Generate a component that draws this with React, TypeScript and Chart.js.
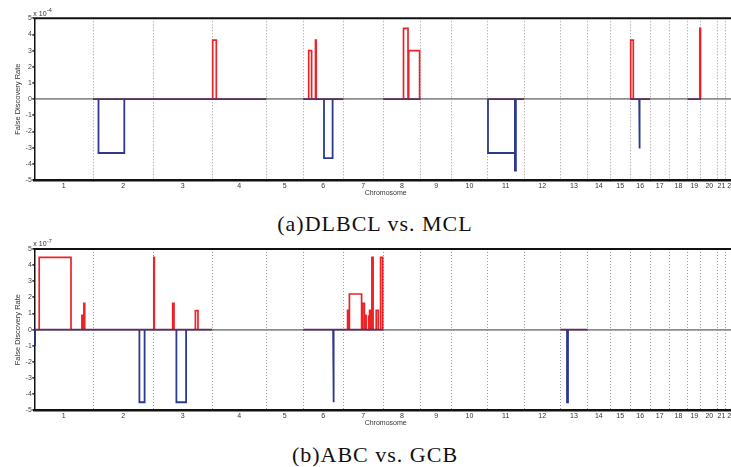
import React, { useEffect, useRef } from "react";
import { Chart, registerables } from "chart.js";

Chart.register(...registerables);

// ---------- data ----------
const CHROMOSOMES = ["1", "2", "3", "4", "5", "6", "7", "8", "9", "10", "11", "12", "13", "14", "15", "16", "17", "18", "19", "20", "21", "22"];
// relative width of each chromosome on the genome axis (position units)
const CHROM_SIZES = [58.7, 60.3, 58.7, 54.3, 37, 40, 40, 37.4, 31, 35.6, 36.7, 36.3, 27.4, 22.3, 20.3, 19.8, 19.2, 18.4, 13.3, 16.7, 7.6, 11.7];
const Y_TICKS = [-5, -4, -3, -2, -1, 0, 1, 2, 3, 4, 5];

// (a) DLBCL vs. MCL : [start, end, FDR (x10^-4)]
const A_RED: number[][] = [
  [178.4, 182.0, 3.65],
  [274.4, 277.3, 3.0],
  [281.2, 281.9, 3.65],
  [369.2, 373.7, 4.38],
  [374.4, 385.3, 3.0],
  [596.4, 599.0, 3.65],
  [665.5, 666.2, 4.38],
];
const A_BLUE: number[][] = [
  [64.2, 90.0, -3.33],
  [289.7, 298.3, -3.65],
  [453.7, 480.6, -3.33],
  [480.6, 481.6, -4.42],
  [604.9, 605.5, -3.05],
];
const A_BASE: number[][] = [
  [58.7, 232.0],
  [269.0, 309.0],
  [349.0, 386.4],
  [453.0, 489.7],
  [596.0, 615.8],
  [653.4, 666.7],
];

// (b) ABC vs. GCB : [start, end, FDR (x10^-7)]
const B_RED: number[][] = [
  [4.9, 36.7, 4.48],
  [47.6, 48.1, 0.89],
  [49.6, 50.4, 1.63],
  [119.5, 120.0, 4.48],
  [138.4, 139.7, 1.63],
  [161.1, 163.7, 1.18],
  [313.3, 314.1, 1.2],
  [315.1, 327.3, 2.21],
  [328.3, 330.1, 1.63],
  [330.6, 331.8, 0.89],
  [334.0, 334.5, 0.89],
  [335.3, 336.4, 1.2],
  [337.6, 338.8, 4.48],
  [341.9, 343.9, 1.2],
  [346.3, 348.4, 4.48],
];
const B_BLUE: number[][] = [
  [0.0, 0.8, -0.95],
  [105.1, 110.3, -4.5],
  [142.1, 151.8, -4.5],
  [298.8, 299.6, -4.5],
  [532.7, 533.7, -4.5],
];
const B_BASE: number[][] = [
  [0.0, 177.7],
  [269.0, 349.0],
  [526.0, 553.4],
];

// ---------- derived ----------
const BOUNDS: number[] = [];
const CENTERS: number[] = [];
{
  let acc = 0;
  for (const s of CHROM_SIZES) {
    CENTERS.push(acc + s / 2);
    acc += s;
    BOUNDS.push(acc);
  }
}
const X_MAX = BOUNDS[BOUNDS.length - 1];
const INNER_BOUNDS = BOUNDS.slice(0, BOUNDS.length - 1);

const FONT = "'Liberation Sans Narrow', 'Liberation Sans', Arial, sans-serif";
const RED = "#ec2227";
const BLUE = "#2b3990";
const BASE = "#5e2d62";

function segPoints(segs: number[][]) {
  const pts: { x: number; y: number | null }[] = [];
  for (const [s, e, v] of segs) {
    pts.push({ x: s, y: 0 }, { x: s, y: v }, { x: e, y: v }, { x: e, y: 0 }, { x: e, y: null });
  }
  return pts;
}
function basePoints(segs: number[][]) {
  const pts: { x: number; y: number | null }[] = [];
  for (const [s, e] of segs) {
    pts.push({ x: s, y: 0 }, { x: e, y: 0 }, { x: e, y: null });
  }
  return pts;
}

const framePlugin = {
  id: "frame",
  afterDraw(chart: any, _args: any, opts: any) {
    const { ctx, chartArea } = chart;
    ctx.save();
    ctx.strokeStyle = "#111";
    ctx.lineWidth = 2;
    ctx.beginPath();
    ctx.moveTo(chartArea.left - 0.75, chartArea.top);
    ctx.lineTo(chartArea.right, chartArea.top);
    ctx.stroke();
    ctx.fillStyle = "#333";
    ctx.textBaseline = "alphabetic";
    ctx.textAlign = "left";
    ctx.font = `7px ${FONT}`;
    const x0 = chartArea.left - 1;
    ctx.fillText("x 10", x0, chartArea.top - 2.6);
    const w = ctx.measureText("x 10").width;
    ctx.font = `5.5px ${FONT}`;
    ctx.fillText(opts.exp, x0 + w + 0.4, chartArea.top - 6.3);
    ctx.restore();
  },
};

type PanelProps = {
  top: number;
  chartTop: number;
  chartBottom: number;
  red: number[][];
  blue: number[][];
  base: number[][];
  exp: string;
};

const CANVAS_W = 737;
const CANVAS_H = 200;

function FdrPanel(p: PanelProps) {
  const ref = useRef<HTMLCanvasElement | null>(null);
  useEffect(() => {
    if (!ref.current) return;
    const chart = new Chart(ref.current, {
      type: "line",
      data: {
        datasets: [
          {
            data: basePoints(p.base) as any,
            borderColor: BASE,
            borderWidth: 1.6,
            pointRadius: 0,
            fill: false,
            tension: 0,
            spanGaps: false,
          },
          {
            data: segPoints(p.blue) as any,
            borderColor: BLUE,
            borderWidth: 1.8,
            pointRadius: 0,
            fill: false,
            tension: 0,
            spanGaps: false,
            borderJoinStyle: "miter",
          },
          {
            data: segPoints(p.red) as any,
            borderColor: RED,
            borderWidth: 1.7,
            pointRadius: 0,
            fill: false,
            tension: 0,
            spanGaps: false,
            borderJoinStyle: "miter",
          },
        ],
      },
      options: {
        animation: false,
        responsive: false,
        devicePixelRatio: 1,
        events: [],
        layout: { padding: { top: p.chartTop, left: 0, right: 0, bottom: 0 }, autoPadding: false } as any,
        plugins: {
          legend: { display: false },
          tooltip: { enabled: false },
          frame: { exp: p.exp },
        } as any,
        scales: {
          x: {
            type: "linear",
            position: "bottom",
            min: 0,
            max: X_MAX,
            afterBuildTicks: (s: any) => {
              s.ticks = CENTERS.map((v) => ({ value: v }));
            },
            afterFit: (s: any) => {
              s.height = CANVAS_H - p.chartBottom;
            },
            ticks: {
              autoSkip: false,
              maxRotation: 0,
              padding: 1.5,
              color: "#333",
              font: { size: 7, family: FONT },
              callback: (_v: any, i: number) => CHROMOSOMES[i],
            },
            grid: { display: false, drawTicks: false },
            border: { display: true, color: "#111", width: 2.5 },
            title: {
              display: true,
              text: "Chromosome",
              color: "#333",
              font: { size: 7, family: FONT },
              padding: { top: 0, bottom: 2.3 },
            },
          },
          x2: {
            type: "linear",
            position: "bottom",
            min: 0,
            max: X_MAX,
            afterBuildTicks: (s: any) => {
              s.ticks = INNER_BOUNDS.map((v) => ({ value: v }));
            },
            afterFit: (s: any) => {
              s.height = 0;
            },
            ticks: { display: false },
            grid: { display: true, drawTicks: false, color: "#9b9b9b", lineWidth: 1 },
            border: { display: false, dash: [1, 2] },
          },
          y: {
            type: "linear",
            min: -5,
            max: 5,
            afterBuildTicks: (s: any) => {
              s.ticks = Y_TICKS.map((v) => ({ value: v }));
            },
            afterFit: (s: any) => {
              s.width = 34.3;
            },
            ticks: { color: "#444", font: { size: 7, family: FONT }, padding: 0.5 },
            grid: {
              color: (c: any) => (c.tick && c.tick.value === 0 ? "#8d8d8d" : "rgba(0,0,0,0)"),
              lineWidth: 1.8,
              tickColor: "#444",
              tickLength: 2,
              drawTicks: true,
            },
            border: { display: true, color: "#111", width: 1.5 },
            title: {
              display: true,
              text: "False Discovery Rate",
              color: "#333",
              font: { size: 7.5, family: FONT },
              padding: { top: 13.5, bottom: 0 },
            },
          },
        } as any,
      },
      plugins: [framePlugin],
    } as any);
    return () => chart.destroy();
  }, []);
  return (
    <canvas
      ref={ref}
      width={CANVAS_W}
      height={CANVAS_H}
      style={{ position: "absolute", left: 0, top: p.top, width: CANVAS_W, height: CANVAS_H }}
    />
  );
}

const captionStyle: React.CSSProperties = {
  position: "absolute",
  left: 0,
  width: 750,
  textAlign: "center",
  fontFamily: "'Liberation Serif', 'Times New Roman', serif",
  fontSize: 22,
  letterSpacing: 1,
  lineHeight: "22px",
  color: "#111",
  whiteSpace: "nowrap",
};

export default function App() {
  return (
    <div
      style={{
        position: "absolute",
        left: 0,
        top: 0,
        width: 731,
        height: 467,
        overflow: "hidden",
        background: "#fff",
      }}
    >
      <FdrPanel top={0} chartTop={18.3} chartBottom={180} red={A_RED} blue={A_BLUE} base={A_BASE} exp="-4" />
      <div style={{ ...captionStyle, top: 213 }}>(a)DLBCL vs. MCL</div>
      <FdrPanel top={230} chartTop={19} chartBottom={180.3} red={B_RED} blue={B_BLUE} base={B_BASE} exp="-7" />
      <div style={{ ...captionStyle, top: 444 }}>(b)ABC vs. GCB</div>
    </div>
  );
}
